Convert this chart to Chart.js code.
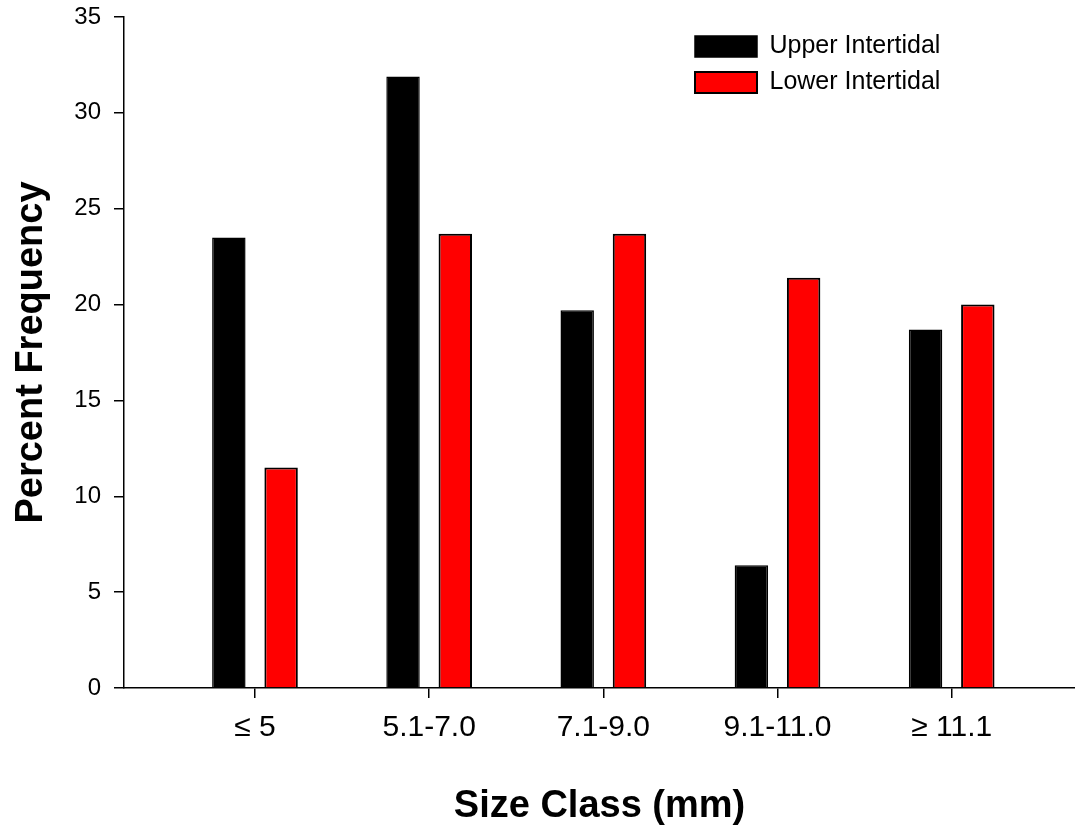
<!DOCTYPE html>
<html>
<head>
<meta charset="utf-8">
<script src="https://cdn.jsdelivr.net/npm/chart.js@4.4.1/dist/chart.umd.min.js"></script>
<style>
    html, body { margin: 0; padding: 0; background: #fff; }
    #wrap { width: 1075px; height: 829px; position: relative; }
</style>
</head>
<body>
<div id="wrap"><canvas id="sizeChart"></canvas></div>
<script>
// Size class frequency data
const sizeClasses = ['\u2264 5', '5.1-7.0', '7.1-9.0', '9.1-11.0', '\u2265 11.1'];
const upperIntertidal = [23.5, 31.9, 19.7, 6.4, 18.7];
const lowerIntertidal = [11.5, 23.7, 23.7, 21.4, 20.0];
const yTicks = [0, 5, 10, 15, 20, 25, 30, 35];

const FONT = "'Liberation Sans', Arial, sans-serif";

const toPoints = (vals) => vals.map((v, i) => ({ x: i + 1, y: v }));

// puts the legend in the upper right corner of the plot
const legendPlacer = {
    id: 'legendPlacer',
    afterLayout(chart) {
        const lg = chart.legend;
        if (!lg) return;
        const w = lg.width, h = lg.height;
        lg.left = 684;
        lg.top = 23;
        lg.right = lg.left + w;
        lg.bottom = lg.top + h;
    }
};

const ctx = document.getElementById('sizeChart').getContext('2d');
const sizeChart = new Chart(ctx, {
    type: 'bar',
    data: {
        datasets: [
            {
                label: 'Upper Intertidal',
                data: toPoints(upperIntertidal),
                backgroundColor: '#000000',
                borderColor: '#000000',
                borderWidth: 1.5
            },
            {
                label: 'Lower Intertidal',
                data: toPoints(lowerIntertidal),
                backgroundColor: '#ff0000',
                borderColor: '#000000',
                borderWidth: 2
            }
        ]
    },
    plugins: [legendPlacer],
    options: {
        responsive: true,
        maintainAspectRatio: false,
        animation: false,
        categoryPercentage: 0.6,
        barPercentage: 0.64,
        layout: { padding: { top: 17, right: 0, left: 0, bottom: 0 } },
        plugins: {
            tooltip: { enabled: false },
            legend: {
                position: 'chartArea',
                align: 'start',
                labels: {
                    color: '#000',
                    boxWidth: 62,
                    boxHeight: 21,
                    padding: 11,
                    font: { family: FONT, size: 25 }
                }
            }
        },
        scales: {
            x: {
                type: 'linear',
                bounds: 'data',
                offset: false,
                min: 0.248,
                max: 5.708,
                afterBuildTicks: (axis) => {
                    axis.ticks = sizeClasses.map((c, i) => ({ value: i + 1 }));
                },
                afterFit: (axis) => { axis.height = 141; },
                grid: {
                    offset: false,
                    drawOnChartArea: false,
                    drawTicks: true,
                    tickLength: 10,
                    color: '#000',
                    lineWidth: 1.5
                },
                border: { display: true, color: '#000', width: 1.5 },
                ticks: {
                    color: '#000',
                    padding: 12,
                    maxRotation: 0,
                    autoSkip: false,
                    font: { family: FONT, size: 30 },
                    callback: (v) => sizeClasses[Math.round(v) - 1]
                },
                title: {
                    display: true,
                    text: 'Size Class (mm)',
                    color: '#000',
                    padding: { top: 0, bottom: 0 },
                    font: { family: FONT, size: 38, weight: 'bold' }
                }
            },
            y: {
                min: 0,
                max: 35,
                afterBuildTicks: (axis) => {
                    axis.ticks = yTicks.map(v => ({ value: v }));
                },
                afterFit: (axis) => {
                    axis.width = 124;
                    axis.paddingTop = 0;
                    axis.paddingBottom = 0;
                },
                grid: {
                    drawOnChartArea: false,
                    drawTicks: true,
                    tickLength: 10,
                    color: '#000',
                    lineWidth: 1.5
                },
                border: { display: true, color: '#000', width: 1.5 },
                ticks: {
                    color: '#000',
                    padding: 13,
                    font: { family: FONT, size: 24 }
                },
                title: {
                    display: true,
                    text: 'Percent Frequency',
                    color: '#000',
                    padding: { top: 9, bottom: 0 },
                    font: { family: FONT, size: 38, weight: 'bold' }
                }
            }
        }
    }
});
</script>
</body>
</html>
